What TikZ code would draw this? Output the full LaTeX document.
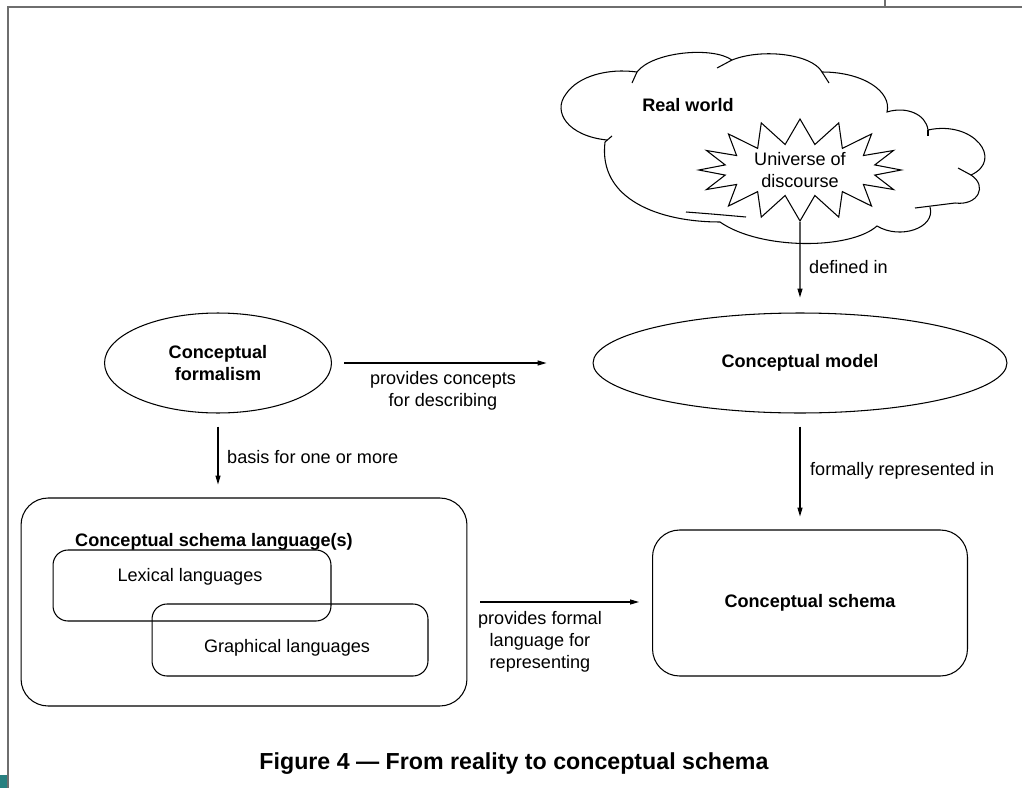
\documentclass[tikz,border=0pt]{standalone}
\usepackage{fontspec}
\setmainfont{Liberation Sans}
\usetikzlibrary{shapes.geometric,shapes.symbols,arrows.meta}
\definecolor{framegray}{RGB}{110,110,110}
\definecolor{pageteal}{RGB}{40,128,128}

\begin{document}
\begin{tikzpicture}[x=0.02cm,y=-0.02cm,
    every node/.style={font=\fontsize{10.3}{12.5}\selectfont},
    ln/.style={line width=0.6pt},
    bold/.style={font=\fontsize{10.3}{12.5}\selectfont\bfseries},
    oval/.style={draw,ln,ellipse,align=center,bold},
    rbox/.style={draw,ln,rounded corners=0.54cm},
    arr/.style={ln,-{Triangle[length=5pt,width=2.8pt]}},
    gap/.style={shorten <=0.26cm,shorten >=0.26cm}]
            \useasboundingbox (0,0) rectangle (1022,788);

            %Page frame
            \draw[framegray,ln] (8,788) -- (8,7) -- (1022,7);
            \draw[framegray,ln] (885,0) -- (885,7);
            \fill[pageteal] (0,775) rectangle (7,788);

            %Cloud
            \draw[ln] (607,140)
                .. controls (568,136) and (552,112) .. (566,94)
                .. controls (578,76) and (608,68) .. (637,72)
                .. controls (652,52) and (712,46) .. (732,60)
                .. controls (762,48) and (812,54) .. (822,72)
                .. controls (864,72) and (892,92) .. (887,112)
                .. controls (906,106) and (926,114) .. (928,130)
                .. controls (974,120) and (1004,160) .. (971,175)
                .. controls (988,186) and (978,206) .. (955,203)
                -- (915,208);
            \draw[ln] (930,207)
                .. controls (936,228) and (900,240) .. (877,226)
                .. controls (850,250) and (760,250) .. (720,222)
                .. controls (660,222) and (598,200) .. (605,142);
            \draw[ln] (637,72) -- (632,83);
            \draw[ln] (732,60) -- (717,68);
            \draw[ln] (822,72) -- (829,83);
            \draw[ln] (928,130) -- (928,136);
            \draw[ln] (971,175) -- (958,168);
            \draw[ln] (605,142) -- (612,136);
            \draw[ln] (686,212) .. controls (712,214) .. (746,217);

            %Nodes
            \node[bold] at (688,105) (rw) {Real world};
            \node[draw,ln,starburst,random starburst=0,starburst points=16,
                  starburst point height=0.5cm,minimum width=4.05cm,
                  minimum height=2.04cm,align=center,inner sep=0pt]
                  at (800,170) (uod) {Universe of\\discourse};
            \node[oval,minimum width=4.54cm,minimum height=2cm] at (218,363) (cform) {Conceptual\\formalism};
            \node[oval,minimum width=8.28cm,minimum height=2cm] at (800,363) (cmodel) {Conceptual model};
            \node[rbox,minimum width=8.92cm,minimum height=4.16cm] at (244,602) (csl) {};
            \node[bold] at (214,542) (csltitle) {Conceptual schema language(s)};
            \node[rbox,rounded corners=0.3cm,minimum width=5.56cm,minimum height=1.42cm] at (192,585.5) (lex) {};
            \node at (190,577) (lextext) {Lexical languages};
            \node[rbox,rounded corners=0.3cm,minimum width=5.52cm,minimum height=1.44cm] at (290,640) (graph) {};
            \node at (287,648) (graphtext) {Graphical languages};
            \node[rbox,bold,minimum width=6.3cm,minimum height=2.92cm] at (810,603) (cschema) {Conceptual schema};

            %Lines
            \draw[arr,shorten >=0.3cm] (uod.south) -- (cmodel.north);
            \draw[arr,shorten <=0.24cm,shorten >=0.92cm] (cform) -- (cmodel);
            \draw[arr,gap] (cmodel.south) -- (cmodel.south |- cschema.north);
            \draw[arr,gap] (cform.south) -- (cform.south |- csl.north);
            \draw[arr,gap] (csl.east) -- (csl.east -| cschema.west);

            %Labels
            \node[anchor=west] at (803,267) (ldefined) {defined in};
            \node[align=center] at (443,391) (lconcepts) {provides concepts\\for describing};
            \node[anchor=west] at (221,457) (lbasis) {basis for one or more};
            \node[anchor=west] at (804,471) (lformally) {formally represented in};
            \node[align=center] at (540,642) (lformal) {provides formal\\language for\\representing};
            \node[font=\fontsize{13.2}{15}\selectfont\bfseries] at (514,764) (caption) {Figure 4 — From reality to conceptual schema};
        \end{tikzpicture}
\end{document}
